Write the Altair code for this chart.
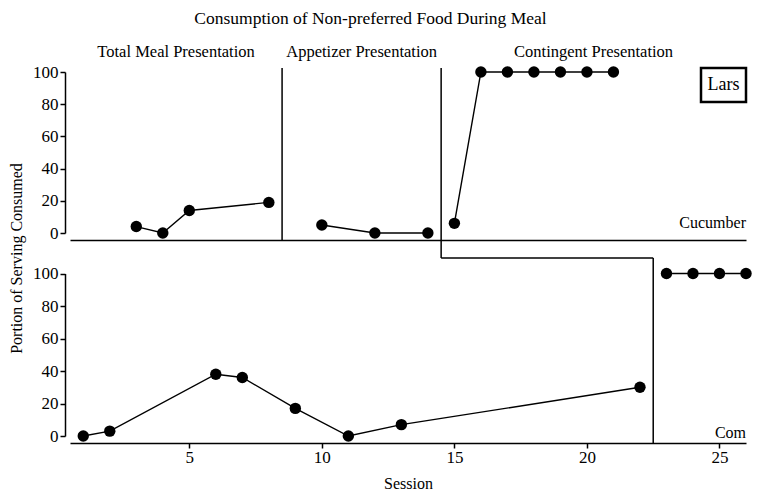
import altair as alt
import pandas as pd

# ---- data ----
cuc_sessions = [3, 4, 5, 8, 10, 12, 14, 15, 16, 17, 18, 19, 20, 21]
cuc_values = [4, 0, 14, 19, 5, 0, 0, 6, 100, 100, 100, 100, 100, 100]
cuc_phase = ["Total Meal"] * 4 + ["Appetizer"] * 3 + ["Contingent"] * 7

corn_sessions = [1, 2, 6, 7, 9, 11, 13, 22, 23, 24, 25, 26]
corn_values = [0, 3, 38, 36, 17, 0, 7, 30, 100, 100, 100, 100]
corn_phase = ["Baseline"] * 8 + ["Contingent"] * 4

phase_names = ["Total Meal Presentation", "Appetizer Presentation", "Contingent Presentation"]
phase_bounds = [0.5, 8.5, 14.5, 26]          # session domain edges & phase changes (top)
corn_change = 22.5                             # phase change (bottom)
x_ticks = [5, 10, 15, 20, 25]
y_ticks = [0, 20, 40, 60, 80, 100]

FONT = "Liberation Serif"
W = 676
TOP_H, BOT_H = 172, 185
GAP = 18

cuc = pd.DataFrame({"session": cuc_sessions, "value": cuc_values, "phase": cuc_phase})
corn = pd.DataFrame({"session": corn_sessions, "value": corn_values, "phase": corn_phase})
labels = pd.DataFrame({
    "name": phase_names,
    "mid": [(phase_bounds[i] + phase_bounds[i + 1]) / 2 for i in range(3)],
})
top_rules = pd.DataFrame({"x": phase_bounds[1:3]})
one = pd.DataFrame({"a": [0]})

xscale = alt.Scale(domain=[phase_bounds[0], phase_bounds[-1]], nice=False, zero=False)

def yax(**kw):
    return alt.Axis(values=y_ticks, tickSize=5, offset=5, grid=False,
                    labelFontSize=17, labelPadding=2, **kw)

# ---- top panel (Cucumber) ----
xt = alt.X("session:Q", scale=xscale,
           axis=alt.Axis(labels=False, ticks=False, grid=False, title=None))
yt = alt.Y("value:Q", scale=alt.Scale(domain=[0, 100], range=[165, 4], nice=False),
           axis=yax(title="Portion of Serving Consumed", titleY=190, titleX=-49,
                    titleAngle=-90, titleBaseline="middle", titleAlign="center",
                    titleFontSize=16, titleFontWeight="normal"))

top_line = alt.Chart(cuc).mark_line(color="black", strokeWidth=1.4).encode(
    x=xt, y=yt, detail="phase:N")
top_pts = alt.Chart(cuc).mark_circle(size=130, color="black", opacity=1).encode(x=xt, y=yt)
top_phase = alt.Chart(top_rules).mark_rule(color="black", strokeWidth=1.5).encode(
    x=alt.X("x:Q", scale=xscale), y=alt.value(0), y2=alt.value(TOP_H))
top_labels = alt.Chart(labels).mark_text(fontSize=16.5, font=FONT, baseline="alphabetic").encode(
    x=alt.X("mid:Q", scale=xscale), y=alt.value(-11), text="name:N")
title_txt = alt.Chart(one).mark_text(fontSize=17.5, font=FONT, baseline="alphabetic").encode(
    x=alt.value(300.5), y=alt.value(-44),
    text=alt.value("Consumption of Non-preferred Food During Meal"))
lars_box = alt.Chart(one).mark_rect(fill="white", stroke="black", strokeWidth=2.5).encode(
    x=alt.value(W - 45), x2=alt.value(W), y=alt.value(0), y2=alt.value(34))
lars_txt = alt.Chart(one).mark_text(fontSize=18, font=FONT).encode(
    x=alt.value(W - 22.5), y=alt.value(17), text=alt.value("Lars"))
cuc_txt = alt.Chart(one).mark_text(fontSize=16, font=FONT, align="right", baseline="alphabetic").encode(
    x=alt.value(W), y=alt.value(160), text=alt.value("Cucumber"))

top = alt.layer(top_phase, top_line, top_pts, top_labels, title_txt, lars_box, lars_txt,
                cuc_txt).properties(width=W, height=TOP_H)

# ---- bottom panel (Corn) ----
xb = alt.X("session:Q", scale=xscale,
           axis=alt.Axis(values=x_ticks, tickSize=5, grid=False, labelFontSize=17,
                         labelPadding=1, title="Session", titleFontSize=16,
                         titleFontWeight="normal", titlePadding=10))
yb = alt.Y("value:Q", scale=alt.Scale(domain=[0, 100], range=[178, 15.5], nice=False),
           axis=yax(title=None))

bot_line = alt.Chart(corn).mark_line(color="black", strokeWidth=1.4).encode(
    x=xb, y=yb, detail="phase:N")
bot_pts = alt.Chart(corn).mark_circle(size=130, color="black", opacity=1).encode(x=xb, y=yb)
step_data = pd.DataFrame({"x": [phase_bounds[2]], "x2": [corn_change]})
bot_gap = alt.Chart(step_data).mark_rule(color="black", strokeWidth=1.5).encode(
    x=alt.X("x:Q", scale=xscale), y=alt.value(-GAP), y2=alt.value(0))
bot_step = alt.Chart(step_data).mark_rule(color="black", strokeWidth=1.5).encode(
    x=alt.X("x:Q", scale=xscale), x2="x2:Q", y=alt.value(0))
bot_vert = alt.Chart(step_data).mark_rule(color="black", strokeWidth=1.5).encode(
    x=alt.X("x2:Q", scale=xscale), y=alt.value(0), y2=alt.value(BOT_H))
corn_txt = alt.Chart(one).mark_text(fontSize=16, font=FONT, align="right", baseline="alphabetic").encode(
    x=alt.value(W), y=alt.value(180), text=alt.value("Com"))

bottom = alt.layer(bot_gap, bot_step, bot_vert, bot_line, bot_pts, corn_txt).properties(
    width=W, height=BOT_H)

chart = alt.vconcat(top, bottom, spacing=GAP, bounds="flush").properties(
    padding={"left": 0, "top": 2, "right": 0, "bottom": 0},
).configure_view(stroke=None).configure_axis(
    domainColor="black", tickColor="black", labelColor="black", titleColor="black",
    domainWidth=1.5, tickWidth=1.5, labelFont=FONT, titleFont=FONT,
).configure_text(color="black")

chart.save("out.html", embed_options={"renderer": "svg", "actions": False})
